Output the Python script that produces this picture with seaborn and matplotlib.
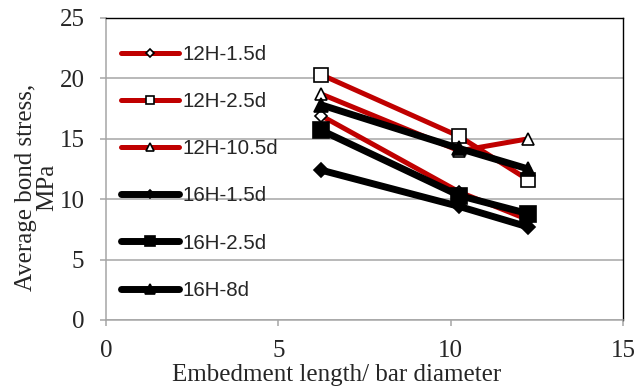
import matplotlib
matplotlib.use('Agg')
import matplotlib.pyplot as plt
import seaborn as sns
import pandas as pd

# embedment length / bar diameter
x_ratio = [6.25, 10.25, 12.25]

series_names = ['12H-1.5d', '12H-2.5d', '12H-10.5d', '16H-1.5d', '16H-2.5d', '16H-8d']
h12_15 = [16.9, 10.6, 8.3]
h12_25 = [20.3, 15.2, 11.6]
h12_105 = [18.7, 14.0, 15.0]
h16_15 = [12.4, 9.4, 7.7]
h16_25 = [15.7, 10.3, 8.8]
h16_8 = [17.8, 14.2, 12.5]
all_values = [h12_15, h12_25, h12_105, h16_15, h16_25, h16_8]

x_ticks = [0, 5, 10, 15]
y_ticks = [0, 5, 10, 15, 20, 25]

rows = []
for name, vals in zip(series_names, all_values):
    for xv, yv in zip(x_ratio, vals):
        rows.append({'series': name, 'ratio': xv, 'stress': yv})
df = pd.DataFrame(rows)

sns.set_style('white')
plt.rcParams['font.family'] = ['Liberation Serif', 'DejaVu Serif']

red = '#C00000'
styles = {
    '12H-1.5d': dict(color=red, marker='D', markersize=5.8, markerfacecolor='white', linewidth=3.6),
    '12H-2.5d': dict(color=red, marker='s', markersize=9.4, markerfacecolor='white', linewidth=3.6),
    '12H-10.5d': dict(color=red, marker='^', markersize=9.0, markerfacecolor='white', linewidth=3.6),
    '16H-1.5d': dict(color='black', marker='D', markersize=7.0, markerfacecolor='black', linewidth=5),
    '16H-2.5d': dict(color='black', marker='s', markersize=11, markerfacecolor='black', linewidth=5),
    '16H-8d': dict(color='black', marker='^', markersize=10.5, markerfacecolor='black', linewidth=5),
}

fig = plt.figure(figsize=(6.37, 3.89), dpi=100)
ax = fig.add_axes([106 / 637, 1 - 320 / 389, 517 / 637, 302 / 389])

for name in series_names:
    sub = df[df['series'] == name]
    sns.lineplot(data=sub, x='ratio', y='stress', ax=ax, label=name, sort=False,
                 markeredgecolor='black', markeredgewidth=1.2, **styles[name])

ax.set_xlim(0, 15)
ax.set_ylim(0, 25)
ax.set_xticks(x_ticks)
ax.set_yticks(y_ticks)
ax.grid(axis='y', color='#a6a6a6', linewidth=1.1, zorder=0)
ax.set_axisbelow(True)

for side in ['left', 'bottom']:
    ax.spines[side].set_color('#a6a6a6')
    ax.spines[side].set_linewidth(1.1)
for side in ['top', 'right']:
    ax.spines[side].set_color('black')
    ax.spines[side].set_linewidth(1.0)

ax.tick_params(axis='both', direction='out', length=4.5, width=1.1, color='#a6a6a6',
               labelsize=18, bottom=True, left=True)
ax.tick_params(axis='x', pad=10)
ax.tick_params(axis='y', pad=11)

ax.set_xlabel('Embedment length/ bar diameter', fontsize=18, labelpad=0)
ax.set_ylabel('Average bond stress,\nMPa', fontsize=18, linespacing=0.95)
ax.xaxis.set_label_coords(0.447, -0.145)
ax.yaxis.set_label_coords(-0.093, 0.439)

leg = ax.legend(loc='upper left', bbox_to_anchor=(121 / 637, 1 - 45 / 389),
                bbox_transform=fig.transFigure, frameon=False, borderpad=0,
                borderaxespad=0, handlelength=2.8, handletextpad=0.2,
                labelspacing=1.37, markerscale=0.65,
                prop={'family': 'Liberation Sans', 'size': 14.8})

fig.savefig('out.png', dpi=100)
